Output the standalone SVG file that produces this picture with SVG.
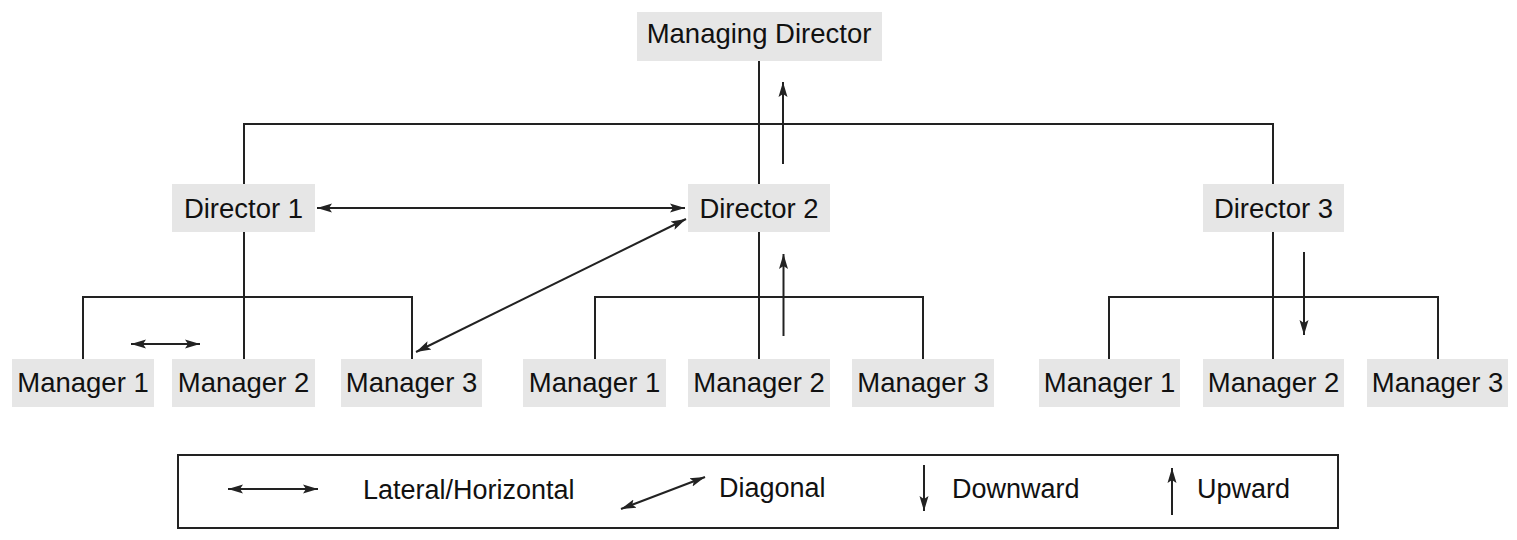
<svg xmlns="http://www.w3.org/2000/svg" width="1517" height="540" viewBox="0 0 1517 540">
<style>
.box{fill:#e6e6e6;stroke:none}
.lbl{font-family:"Liberation Sans",Arial,sans-serif;font-size:27.5px;fill:#111;text-anchor:middle}
.leg{font-family:"Liberation Sans",Arial,sans-serif;font-size:27px;fill:#111}
.ln{stroke:#222;stroke-width:2;fill:none}
.ar{stroke:#222;stroke-width:2;fill:none;marker-end:url(#ah)}
.ar2{stroke:#222;stroke-width:2;fill:none;marker-start:url(#ahs);marker-end:url(#ah)}
</style>
<defs>
<marker id="ah" markerUnits="userSpaceOnUse" markerWidth="16" markerHeight="12" viewBox="0 0 16 12" refX="15" refY="6" orient="auto">
<path d="M0,1.5 L15,6 L0,10.5 L3,6 Z" fill="#222"/>
</marker>
<marker id="ahs" markerUnits="userSpaceOnUse" markerWidth="16" markerHeight="12" viewBox="0 0 16 12" refX="1" refY="6" orient="auto">
<path d="M16,1.5 L1,6 L16,10.5 L13,6 Z" fill="#222"/>
</marker>
</defs>
<rect width="1517" height="540" fill="#fff"/>
<g id="connectors">
<path class="ln" d="M759,61 V184"/>
<path class="ln" d="M244,184 V124 H1273 V184"/>
<path class="ln" d="M244,232 V359 M83,359 V297 H412 V359"/>
<path class="ln" d="M759,232 V359 M595,359 V297 H923 V359"/>
<path class="ln" d="M1273,232 V359 M1109,359 V297 H1438 V359"/>
<path class="ar" d="M783,164 V82"/>
<path class="ar2" d="M317,208 H685"/>
<path class="ar2" d="M416,352 L686,219"/>
<path class="ar2" d="M131,344 H200"/>
<path class="ar" d="M783.5,336 V254"/>
<path class="ar" d="M1304,252 V335"/>
</g>
<g id="md"><rect class="box" x="637" y="12" width="245" height="49"/><text class="lbl" x="759" y="43">Managing Director</text></g>
<g id="d1"><rect class="box" x="172" y="184" width="143" height="48"/><text class="lbl" x="243.5" y="218">Director 1</text></g>
<g id="d2"><rect class="box" x="688" y="184" width="142" height="48"/><text class="lbl" x="759" y="218">Director 2</text></g>
<g id="d3"><rect class="box" x="1203" y="184" width="141" height="48"/><text class="lbl" x="1273.5" y="218">Director 3</text></g>
<g id="g1m1"><rect class="box" x="12" y="359" width="142" height="48"/><text class="lbl" x="83" y="392">Manager 1</text></g>
<g id="g1m2"><rect class="box" x="172" y="359" width="143" height="48"/><text class="lbl" x="243.5" y="392">Manager 2</text></g>
<g id="g1m3"><rect class="box" x="341" y="359" width="141" height="48"/><text class="lbl" x="411.5" y="392">Manager 3</text></g>
<g id="g2m1"><rect class="box" x="523" y="359" width="143" height="48"/><text class="lbl" x="594.5" y="392">Manager 1</text></g>
<g id="g2m2"><rect class="box" x="688" y="359" width="142" height="48"/><text class="lbl" x="759" y="392">Manager 2</text></g>
<g id="g2m3"><rect class="box" x="852" y="359" width="142" height="48"/><text class="lbl" x="923" y="392">Manager 3</text></g>
<g id="g3m1"><rect class="box" x="1039" y="359" width="141" height="48"/><text class="lbl" x="1109.5" y="392">Manager 1</text></g>
<g id="g3m2"><rect class="box" x="1203" y="359" width="141" height="48"/><text class="lbl" x="1273.5" y="392">Manager 2</text></g>
<g id="g3m3"><rect class="box" x="1367" y="359" width="141" height="48"/><text class="lbl" x="1437.5" y="392">Manager 3</text></g>
<g id="legend">
<rect x="178" y="455" width="1160" height="73" fill="none" stroke="#222" stroke-width="2"/>
<path class="ar2" d="M228,489 H318"/>
<text class="leg" x="363" y="499">Lateral/Horizontal</text>
<path class="ar2" d="M621,509 L705,477"/>
<text class="leg" x="719" y="497">Diagonal</text>
<path class="ar" d="M924,465 V511"/>
<text class="leg" x="952" y="498">Downward</text>
<path class="ar" d="M1172,515 V468"/>
<text class="leg" x="1197" y="498">Upward</text>
</g>
</svg>
